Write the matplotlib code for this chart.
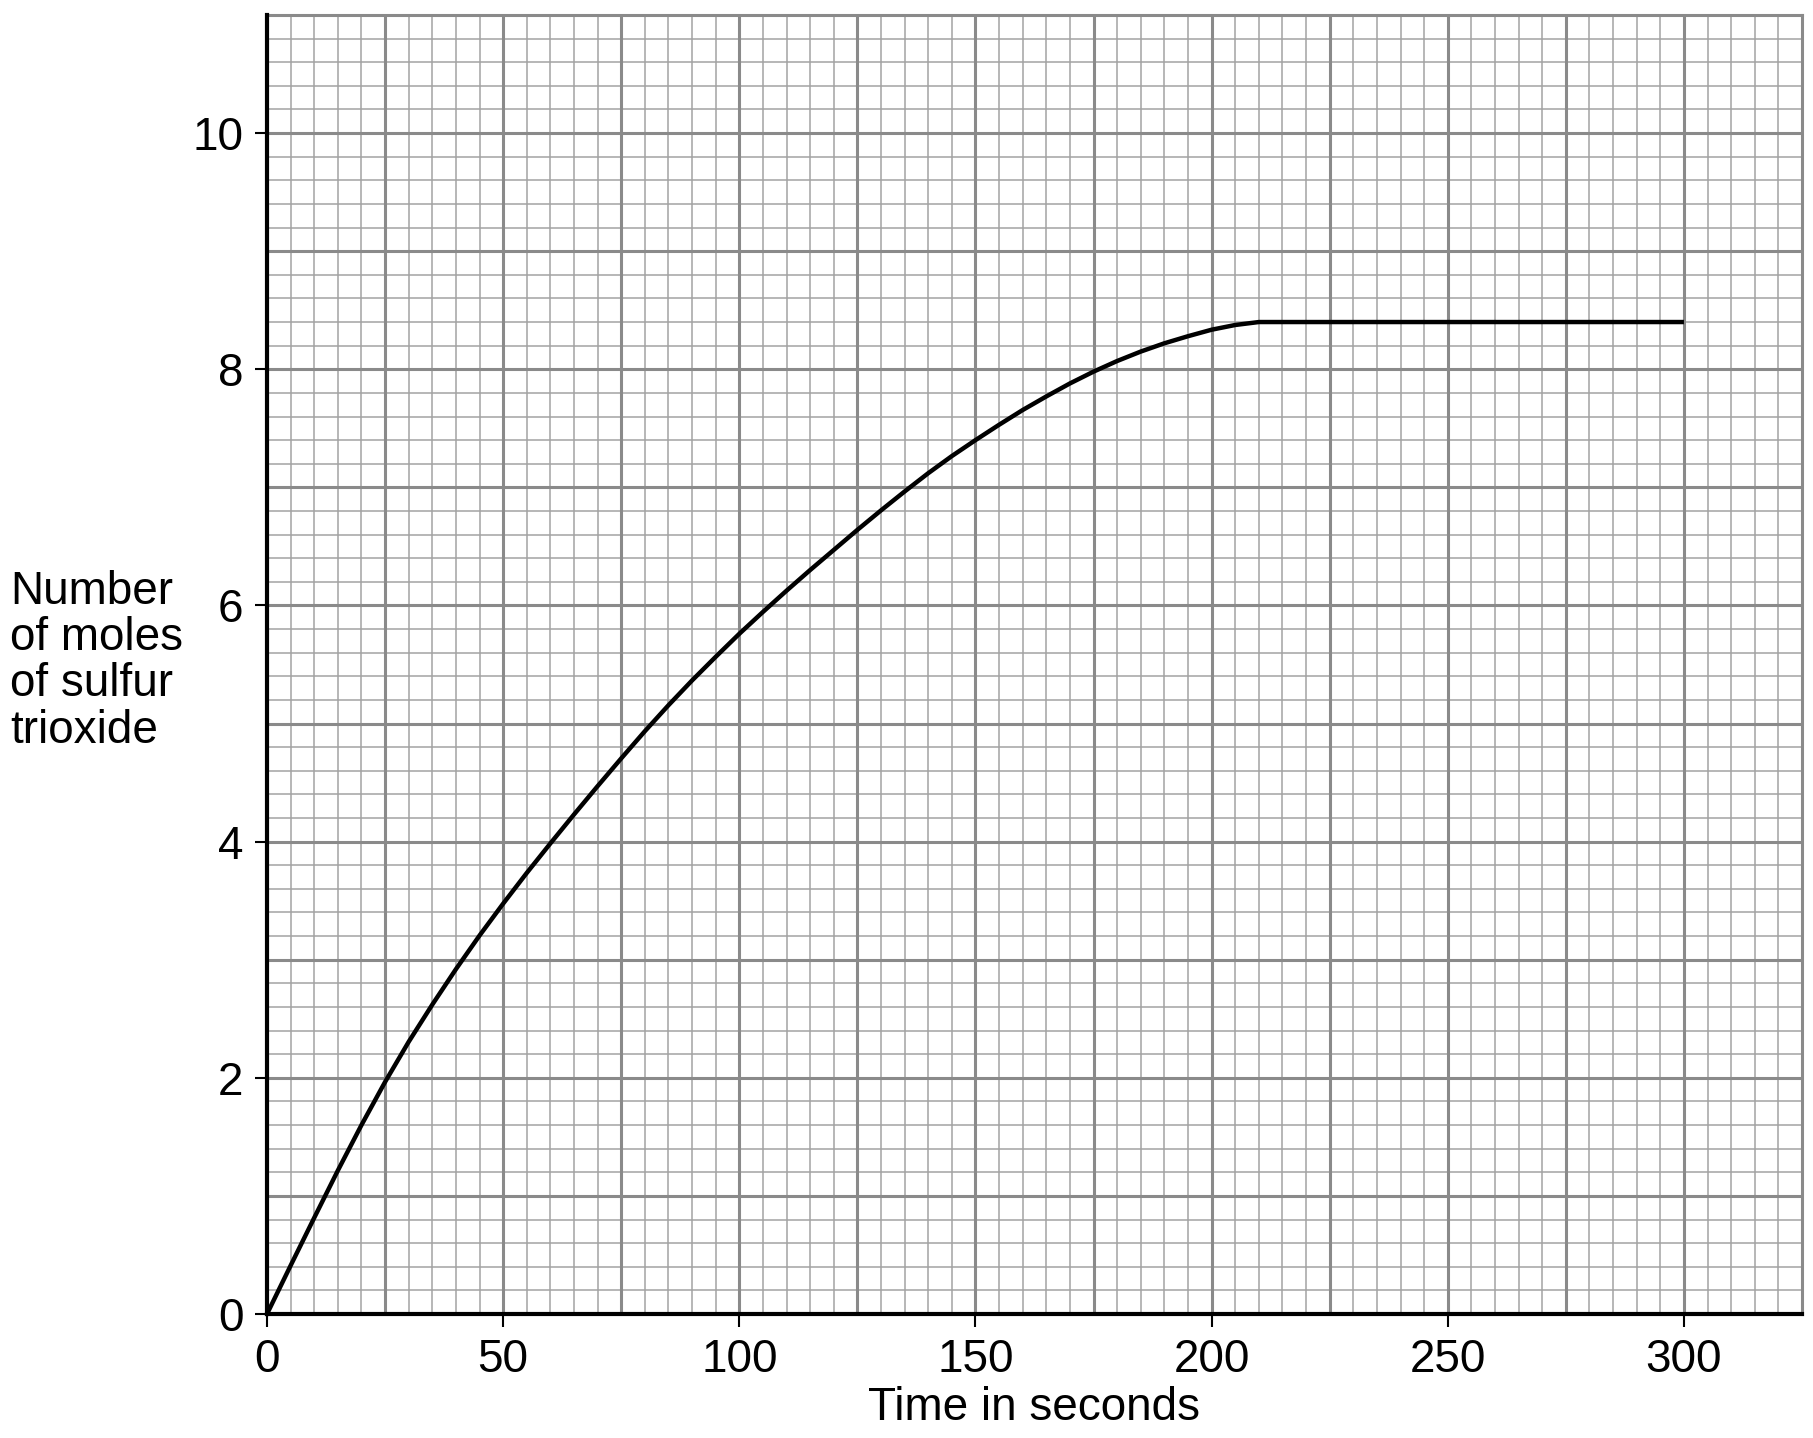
import matplotlib
matplotlib.use("Agg")
import matplotlib.pyplot as plt
import numpy as np

plt.rcParams['font.family'] = ['Liberation Sans', 'DejaVu Sans']

# Zeit in Sekunden und Stoffmenge SO3
zeit = [0, 5, 10, 15, 20, 25, 30, 35, 40, 45, 50, 55, 60, 65, 70, 75, 80,
        85, 90, 95, 100, 105, 110, 115, 120, 125, 130, 135, 140, 145, 150,
        155, 160, 165, 170, 175, 180, 185, 190, 195, 200, 205, 210, 300]
mol = [0, 0.41, 0.815, 1.215, 1.60, 1.965, 2.305, 2.62, 2.92, 3.205, 3.475,
       3.735, 3.985, 4.23, 4.47, 4.705, 4.935, 5.155, 5.365, 5.565, 5.76,
       5.945, 6.125, 6.30, 6.47, 6.64, 6.805, 6.965, 7.12, 7.265, 7.40,
       7.53, 7.655, 7.77, 7.88, 7.98, 8.07, 8.15, 8.22, 8.28, 8.335, 8.375,
       8.40, 8.40]

x_ticks = [0, 50, 100, 150, 200, 250, 300]
y_ticks = [0, 2, 4, 6, 8, 10]

fig = plt.figure(figsize=(18.13, 14.38), dpi=100)
ax = fig.add_axes([267/1813, 1 - 1314/1438, (1802 - 267)/1813, (1314 - 15)/1438])

ax.set_xlim(0, 325)
ax.set_ylim(0, 11)

# Millimeterpapier: feine und grobe Linien
gris_fino = '#a3a3a3'
gris_grueso = '#8a8a8a'
ax.vlines(np.arange(5, 325, 5), 0, 11, color=gris_fino, lw=1.1, zorder=1)
ax.hlines(np.arange(0.2, 11, 0.2), 0, 325, color=gris_fino, lw=1.1, zorder=1)
ax.vlines(np.arange(25, 325, 25), 0, 11, color=gris_grueso, lw=2.2, zorder=2)
ax.hlines(np.arange(1, 11, 1), 0, 325, color=gris_grueso, lw=2.2, zorder=2)

ax.plot(zeit, mol, color='black', lw=3.2, zorder=5, solid_capstyle='butt',
        solid_joinstyle='round')

# Achsen
for lado in ['top', 'right']:
    ax.spines[lado].set_color(gris_grueso)
    ax.spines[lado].set_linewidth(2.2)
for lado in ['left', 'bottom']:
    ax.spines[lado].set_color('black')
    ax.spines[lado].set_linewidth(3.0)
    ax.spines[lado].set_zorder(6)

ax.set_xticks(x_ticks)
ax.set_yticks(y_ticks)
ax.set_xticklabels([str(v) for v in x_ticks])
ax.set_yticklabels([str(v) for v in y_ticks])
ax.tick_params(axis='both', direction='out', length=9, width=1.5,
               labelsize=33, color='black')
ax.tick_params(axis='x', pad=8)
ax.tick_params(axis='y', pad=8)

ax.set_xlabel('Time in seconds', fontsize=33, labelpad=3)
fig.text(10/1813, 0.540, 'Number\nof moles\nof sulfur\ntrioxide',
         fontsize=33, ha='left', va='center', linespacing=1.06)

fig.savefig('out.png', dpi=100)
